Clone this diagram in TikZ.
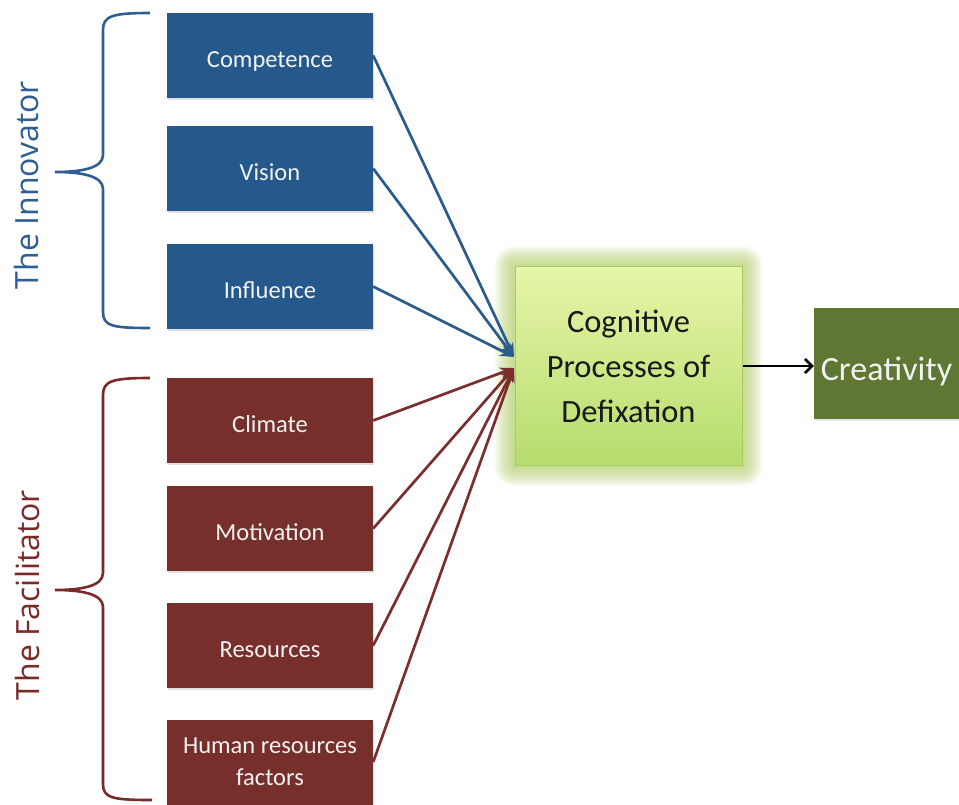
\documentclass[tikz,border=0pt]{standalone}
\usepackage{fontspec}
\setmainfont{Carlito}
\newfontfamily\bracefont{Open Sans}
\usetikzlibrary{arrows.meta,shadows,backgrounds}
\definecolor{innoblue}{HTML}{25598C}
\definecolor{facred}{HTML}{772F2C}
\definecolor{linkblue}{HTML}{2A5B8F}
\definecolor{linkred}{HTML}{7A2E2E}
\definecolor{labblue}{HTML}{2E5E93}
\definecolor{labred}{HTML}{7A2B29}
\definecolor{darkolive}{HTML}{5E7733}
\definecolor{cogtop}{HTML}{E6F5A8}
\definecolor{cogbot}{HTML}{B6DC6C}
\definecolor{cogedge}{HTML}{A9CB62}
\definecolor{glowc}{HTML}{B5D36A}
\begin{document}
\begin{tikzpicture}[x=1pt,y=-1pt,
  factor/.style={minimum width=206pt, minimum height=85pt, inner sep=0pt,
    text=white!95!black, font=\fontsize{24.5}{32}\selectfont, align=center,
    drop shadow={shadow xshift=1pt, shadow yshift=-2pt, opacity=0.25}},
  oneline/.style={text height=23pt, text depth=0pt},
  innobox/.style={factor, oneline, fill=innoblue},
  facbox/.style={factor, oneline, fill=facred},
  facbox2/.style={factor, fill=facred},
  bluelink/.style={draw=linkblue, line width=2.7pt, -{Stealth[length=14pt,width=11pt]}},
  redlink/.style={draw=linkred, line width=2.7pt, -{Stealth[length=14pt,width=11pt]}},
  bracepath/.style={line width=2.6pt},
  grouplabel/.style={font=\bracefont\fontsize{32}{36}\selectfont, rotate=90, anchor=base, inner sep=0pt}
]
\useasboundingbox (0,0) rectangle (959,804);

% factor boxes
\node[innobox] (comp) at (270,55.5) {Competence};
\node[innobox] (vis)  at (270,168.5) {Vision};
\node[innobox] (infl) at (270,286.5) {Influence};
\node[facbox] (clim) at (270,420.5) {Climate};
\node[facbox] (moti) at (270,528.5) {Motivation};
\node[facbox] (reso) at (270,645.5) {Resources};
\node[facbox2] (hum)  at (270,762) {Human resources\\factors};

% central box
\node[minimum width=227pt, minimum height=199pt, inner sep=0pt,
      top color=cogtop, bottom color=cogbot, draw=cogedge, line width=1pt,
      align=center, font=\fontsize{32.5}{45}\selectfont, text=black!90]
      (cog) at (628.5,366) {Cognitive\\Processes of\\Defixation};
\begin{scope}[on background layer]
  \fill[white] (0,0) rectangle (959,804);
  \foreach \r in {1,...,20}{
    \fill[glowc, fill opacity=0.055, rounded corners=\r pt]
      ([shift={(-\r pt,\r pt)}]cog.north west) rectangle ([shift={(\r pt,-\r pt)}]cog.south east);
  }
\end{scope}

% creativity
\node[minimum width=145pt, minimum height=111pt, inner sep=0pt, fill=darkolive,
      text=white!95!black, font=\fontsize{34}{40}\selectfont,
      text height=33pt, text depth=0pt,
      drop shadow={shadow xshift=1pt, shadow yshift=-2pt, opacity=0.2}]
      (cre) at (886.5,363.5) {Creativity};

% convergence points
\coordinate (tb) at (514,357);
\coordinate (tr) at (514,368);

\draw[bluelink] (comp.east) -- (tb);
\draw[bluelink] (vis.east) -- (tb);
\draw[bluelink] (infl.east) -- (tb);
\draw[redlink] (clim.east) -- (tr);
\draw[redlink] (moti.east) -- (tr);
\draw[redlink] (reso.east) -- (tr);
\draw[redlink] (hum.east) -- (tr);

\draw[line width=2.6pt, -{Straight Barb[length=7pt,width=14pt]}] (cog.east |- 0,366) -- (cre.west |- 0,366);

% braces
\draw[bracepath, draw=labblue] (150,13) .. controls (112,13) and (103,16) .. (103,30)
  -- (103,155) .. controls (103,168) and (82,172) .. (55,172)
  .. controls (82,172) and (103,176) .. (103,189)
  -- (103,312) .. controls (103,326) and (112,328) .. (150,328);
\draw[bracepath, draw=labred] (150,378) .. controls (112,378) and (103,381) .. (103,395)
  -- (103,573) .. controls (103,586) and (82,590) .. (55,590)
  .. controls (82,590) and (103,594) .. (103,607)
  -- (103,784) .. controls (103,798) and (112,800) .. (152,800);

\node[grouplabel, text=labblue] (innolab) at (38,185) {The Innovator};
\node[grouplabel, text=labred] (faclab) at (39,595) {The Facilitator};
\end{tikzpicture}
\end{document}
